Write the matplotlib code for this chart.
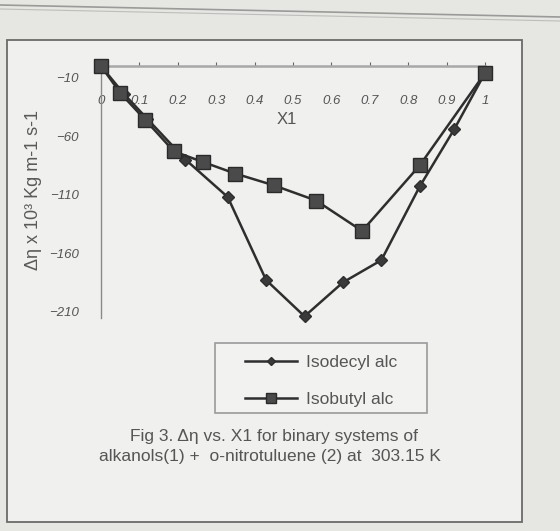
import matplotlib.pyplot as plt
from matplotlib.patches import Rectangle
from matplotlib.lines import Line2D

# mole fraction X1 and viscosity deviation (x 10^3)
x_isodecyl = [0, 0.06, 0.12, 0.22, 0.33, 0.43, 0.53, 0.63, 0.73, 0.83, 0.92, 1.0]
y_isodecyl = [0, -24, -45, -80, -112, -183, -214, -185, -166, -103, -54, -6]

x_isobutyl = [0, 0.05, 0.115, 0.19, 0.265, 0.35, 0.45, 0.56, 0.68, 0.83, 1.0]
y_isobutyl = [0, -23, -46, -73, -82, -92, -102, -115, -141, -85, -6]

xticks = [0, 0.1, 0.2, 0.3, 0.4, 0.5, 0.6, 0.7, 0.8, 0.9, 1]
xticklabels = ['0', '0.1', '0.2', '0.3', '0.4', '0.5', '0.6', '0.7', '0.8', '0.9', '1']
yticks = [-10, -60, -110, -160, -210]

plt.rcParams['font.family'] = ['Liberation Sans', 'DejaVu Sans']

W, H = 560, 531
fig = plt.figure(figsize=(5.6, 5.31), dpi=100)
fig.patch.set_facecolor('#e6e6e3')

# photo frame: top rule and the chart box (behind the axes)
fig.add_artist(Line2D([0, 1], [1 - 5 / H, 1 - 17 / H], color='#9a9a98', lw=1.2, zorder=-10))
fig.add_artist(Line2D([0, 1], [1 - 9 / H, 1 - 21 / H], color='#bdbdbb', lw=0.8, zorder=-10))
fig.add_artist(Rectangle((7 / W, 1 - 522 / H), 515 / W, 482 / H, transform=fig.transFigure,
                         facecolor='#f0f0ee', edgecolor='#6a6a6a', lw=1.3, zorder=-10))
# legend box
fig.add_artist(Rectangle((215 / W, 1 - 413 / H), 212 / W, 70 / H, transform=fig.transFigure,
                         facecolor='#f2f2f0', edgecolor='#9a9a9a', lw=1.2, zorder=-5))

ax = fig.add_axes([101 / W, 1 - 317.5 / H, 384 / W, 251.5 / H])
ax.set_facecolor('none')

ax.plot(x_isodecyl, y_isodecyl, color='#2e2e2e', lw=1.8, marker='D', ms=6.5,
        mfc='#3a3a3a', mec='#2e2e2e', label='Isodecyl alc', zorder=3, clip_on=False)
ax.plot(x_isobutyl, y_isobutyl, color='#2e2e2e', lw=1.8, marker='s', ms=9.5,
        mfc='#4a4a4a', mec='#2a2a2a', label='Isobutyl alc', zorder=4, clip_on=False)

ax.set_xlim(0, 1)
ax.set_ylim(-215, 0)
ax.spines['top'].set_visible(False)
ax.spines['right'].set_visible(False)
ax.spines['bottom'].set_position(('data', 0))
ax.spines['bottom'].set_color('#a8a8a8')
ax.spines['bottom'].set_linewidth(1.8)
ax.spines['left'].set_color('#8a8a8a')
ax.spines['left'].set_linewidth(1.0)

ax.set_xticks(xticks)
ax.set_xticklabels(xticklabels)
ax.set_yticks(yticks)
ax.tick_params(axis='x', direction='in', length=3, pad=21, labelsize=9.5,
               colors='#666666', labelcolor='#555555')
ax.tick_params(axis='y', direction='out', length=0, pad=16, labelsize=9.5,
               labelcolor='#555555')
for lab in ax.get_xticklabels() + ax.get_yticklabels():
    lab.set_style('italic')

fig.text(287 / W, 1 - 119 / H, 'X1', ha='center', va='center', fontsize=12, color='#555555')
fig.text(34 / W, 1 - 190 / H, 'Δη x 10³ Kg m-1 s-1', rotation=90, ha='center', va='center',
         fontsize=13, color='#5a5a5a')

leg = ax.legend(loc='center', bbox_to_anchor=(321 / W, 1 - 381 / H),
                bbox_transform=fig.transFigure, frameon=False,
                fontsize=12.5, labelspacing=1.25, handlelength=3.0, handletextpad=0.5,
                borderpad=0.5, borderaxespad=0, markerscale=0.7)
for t in leg.get_texts():
    t.set_color('#555555')

fig.text(274 / W, 1 - 436 / H, 'Fig 3. Δη vs. X1 for binary systems of', ha='center',
         va='center', fontsize=12.5, color='#555555')
fig.text(270 / W, 1 - 456 / H, 'alkanols(1) +  o-nitrotuluene (2) at  303.15 K', ha='center',
         va='center', fontsize=12.5, color='#555555')

fig.savefig('out.png', dpi=100, facecolor=fig.get_facecolor())
